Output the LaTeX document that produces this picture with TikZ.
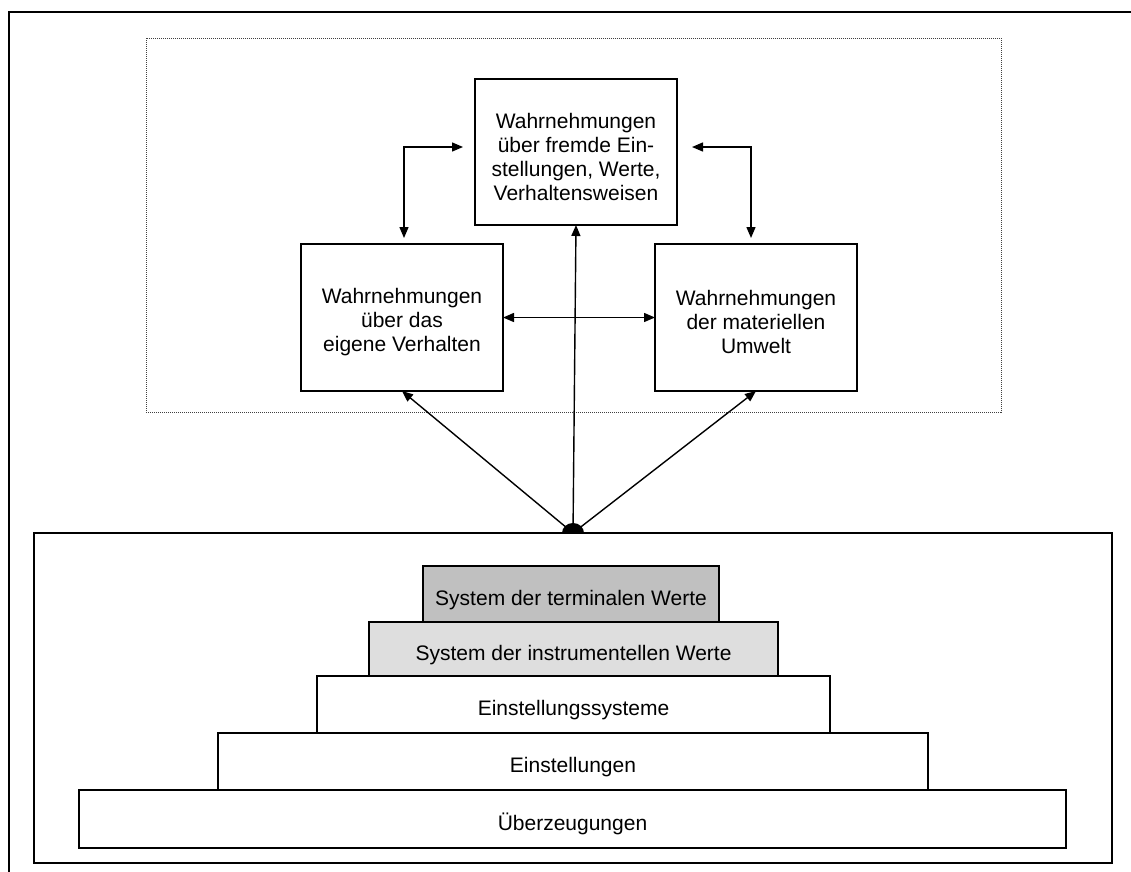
\documentclass[tikz,border=0pt]{standalone}
\usepackage{fontspec}
\setmainfont{Liberation Sans}
\usetikzlibrary{arrows.meta}
\definecolor{termgray}{HTML}{C0C0C0}
\definecolor{instgray}{HTML}{DEDEDE}
\begin{document}
\begin{tikzpicture}[x=1pt,y=-1pt,
  every node/.style={font=\fontsize{21}{24}\selectfont},
  box/.style={draw, line width=1.3pt, inner sep=0pt, outer sep=0pt, align=center},
  layer/.style={box, line width=1.2pt, text height=22pt, text depth=0pt},
  conn/.style={line width=1.4pt, {Triangle[length=11pt,width=9pt]}-{Triangle[length=11pt,width=9pt]}},
  oneway/.style={line width=1.4pt, -{Triangle[length=11pt,width=9pt]}}]
\useasboundingbox (0,0) rectangle (1131,871);

% outer frame (open towards right and bottom)
\draw[line width=2pt] (9,875) -- (9,12) -- (1135,12);

% dotted area around the perception boxes
\draw[line width=0.9pt, dash pattern=on 1pt off 1pt, black!75] (146,38) rectangle (1001,412);

% perception boxes
\node[box, minimum width=202pt, minimum height=146pt, text height=97pt] (fremde) at (576,152)
  {Wahrnehmungen\\über fremde Ein-\\stellungen, Werte,\\Verhaltensweisen};
\node[box, minimum width=202pt, minimum height=147pt, text height=72pt] (eigene) at (402,317.5)
  {Wahrnehmungen\\über das\\eigene Verhalten};
\node[box, minimum width=202pt, minimum height=147pt, text height=72pt] (materiell) at (756,317.5)
  {Wahrnehmungen\\der materiellen\\Umwelt};

% frame around the value pyramid
\draw[line width=1.3pt] (34,533) rectangle (1112,863);

% value pyramid
\node[layer, fill=termgray, minimum width=296pt, minimum height=56pt] (terminal) at (571,594)
  {System der terminalen Werte};
\node[layer, fill=instgray, minimum width=409pt, minimum height=54pt] (instrument) at (573.5,649)
  {System der instrumentellen Werte};
\node[layer, minimum width=513pt, minimum height=57pt] (esysteme) at (573.5,704.5)
  {Einstellungssysteme};
\node[layer, minimum width=710pt, minimum height=57pt] (einst) at (573,761.5)
  {Einstellungen};
\node[layer, minimum width=987pt, minimum height=58pt] (ueberz) at (572.5,819)
  {Überzeugungen};

% elbow connectors between the perception boxes
\coordinate (lk) at (404,147);
\coordinate (rk) at (751,147);
\draw[conn, shorten <=12pt, shorten >=6pt] (fremde.west |- lk) -- (lk) -- (lk |- eigene.north);
\draw[conn, shorten <=15pt, shorten >=6pt] (fremde.east |- rk) -- (rk) -- (rk |- materiell.north);
\draw[conn] (eigene.east) -- (materiell.west);

% connectors from the pyramid hub
\coordinate (hub) at (573,533);
\draw[oneway] (hub) -- (eigene.south);
\draw[oneway] (hub) -- (materiell.south);
\draw[oneway] (hub) -- (fremde.south);
\fill (hub) ++(-11pt,0pt) arc[start angle=180, end angle=0, x radius=11pt, y radius=10pt] -- cycle;
\end{tikzpicture}
\end{document}
